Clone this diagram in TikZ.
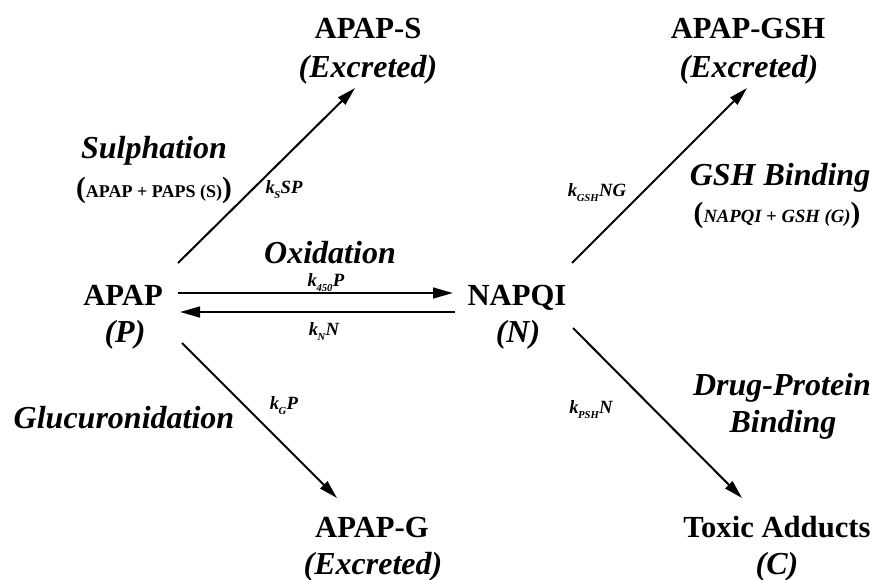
\documentclass[tikz,border=0pt]{standalone}
\usepackage{fontspec}
\setmainfont{Liberation Serif}
\usetikzlibrary{arrows.meta}
\newcommand{\kr}[2]{k\kern-0.03em\raisebox{-0.3em}{\fontsize{8}{8}\selectfont #1}\kern0.02em #2}
\newcommand{\bigpar}[1]{{\fontsize{22}{22}\selectfont\bfseries\upshape #1}}
\begin{document}
\begin{tikzpicture}[x=0.75pt,y=-0.75pt,
  species/.style={font=\fontsize{23}{23}\selectfont\bfseries, anchor=base, inner sep=0pt},
  proc/.style={font=\fontsize{24}{24}\selectfont\bfseries\itshape, anchor=base, inner sep=0pt},
  ratelbl/.style={font=\fontsize{14}{14}\selectfont\bfseries\itshape, anchor=base, inner sep=0pt},
  eqlbl/.style={anchor=base, inner sep=0pt},
  flow/.style={line width=1.8pt, -{Triangle[length=15pt,width=8pt]}},
  dflow/.style={line width=1.5pt, -{Triangle[length=14pt,width=7.5pt]}}]
\useasboundingbox (0,0) rectangle (878,579);
% species
\node[species] (apaps) at (368,38) {APAP-S};
\node[proc] (apapsx) at (368,77) {(Excreted)};
\node[species] (apapgsh) at (748,38) {APAP-GSH};
\node[proc] (apapgshx) at (749,77) {(Excreted)};
\node[species] (apap) at (123,305) {APAP};
\node[proc] (apapp) at (125,342) {(P)};
\node[species] (napqi) at (517,305) {NAPQI};
\node[proc] (napqin) at (518,342) {(N)};
\node[species] (apapg) at (372,537) {APAP-G};
\node[proc] (apapgx) at (373,574) {(Excreted)};
\node[species] (toxic) at (777,537) {Toxic Adducts};
\node[proc] (toxicc) at (777,574) {(C)};
% pathway labels
\node[proc] (sulph) at (154,158) {Sulphation};
\node[eqlbl] (sulpheq) at (154,197) {\bigpar{(}{\fontsize{13.5}{13.5}\selectfont\bfseries APAP + PAPS (S)}\bigpar{)}};
\node[proc] (oxid) at (330,263) {Oxidation};
\node[proc] (gsh) at (780,185) {GSH Binding};
\node[eqlbl] (gsheq) at (777,222) {\bigpar{(}{\fontsize{14}{14}\selectfont\bfseries\itshape NAPQI + GSH (G)}\bigpar{)}};
\node[proc] (gluc) at (124,428) {Glucuronidation};
\node[proc] (drug) at (782,395) {Drug-Protein};
\node[proc] (bind) at (783,432) {Binding};
% rate labels
\node[ratelbl] (ks) at (284,193) {\kr{S}{SP}};
\node[ratelbl] (k450) at (326,286) {\kr{450}{P}};
\node[ratelbl] (kn) at (324,335) {\kr{N}{N}};
\node[ratelbl] (kgsh) at (597,196) {\kr{GSH}{NG}};
\node[ratelbl] (kg) at (284,409) {\kr{G}{P}};
\node[ratelbl] (kpsh) at (591,413) {\kr{PSH}{N}};
% arrow end points
\coordinate (ulA) at (178,263); \coordinate (ulB) at (355,88);
\coordinate (llA) at (182,343); \coordinate (llB) at (337,498);
\coordinate (urA) at (572,263); \coordinate (urB) at (747,88);
\coordinate (lrA) at (573,328); \coordinate (lrB) at (742,498);
\coordinate (fwA) at (178,293); \coordinate (fwB) at (453,293);
\coordinate (bwA) at (455,312); \coordinate (bwB) at (180,312);
\draw[dflow] (ulA) -- (ulB);
\draw[dflow] (llA) -- (llB);
\draw[dflow] (urA) -- (urB);
\draw[dflow] (lrA) -- (lrB);
\draw[flow] (fwA) -- (fwB);
\draw[flow] (bwA) -- (bwB);
\end{tikzpicture}
\end{document}
